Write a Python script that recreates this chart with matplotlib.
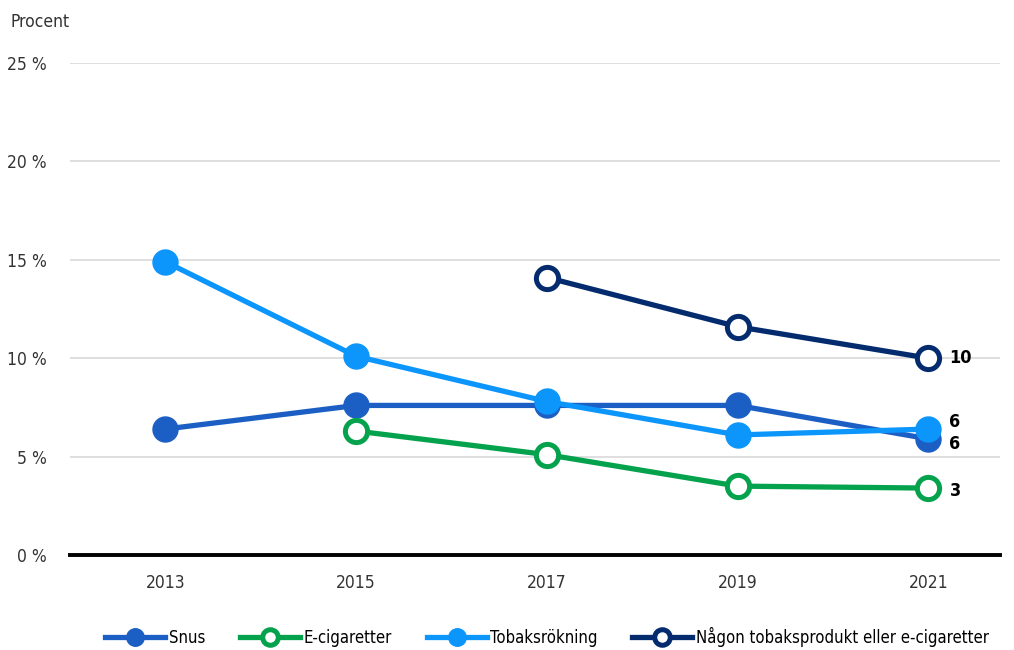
import matplotlib
matplotlib.use("Agg")
import matplotlib.pyplot as plt
from matplotlib import font_manager

years = [2013, 2015, 2017, 2019, 2021]
snus = [6.4, 7.6, 7.6, 7.6, 5.9]
ecig = [None, 6.3, 5.1, 3.5, 3.4]
tobak = [14.9, 10.1, 7.8, 6.1, 6.4]
nagon = [None, None, 14.1, 11.6, 10.0]
end_labels = {"snus": "6", "ecig": "3", "tobak": "6", "nagon": "10"}

# prefer a narrow face if one is installed
fonts = font_manager.fontManager.ttflist
names = {f.name for f in fonts}
narrow = [f for f in fonts if f.name == "DejaVu Sans" and "ondensed" in f.fname]
if "Liberation Sans Narrow" in names:
    plt.rcParams["font.family"] = ["Liberation Sans Narrow", "DejaVu Sans"]
elif narrow:
    plt.rcParams["font.family"] = ["DejaVu Sans"]
    plt.rcParams["font.stretch"] = "condensed"
else:
    plt.rcParams["font.family"] = ["Roboto", "DejaVu Sans"]

fig = plt.figure(figsize=(10.14, 6.5), dpi=100)
ax = fig.add_axes([70 / 1014, 1 - 555 / 650, 930 / 1014, (555 - 63) / 650])


def xy(vals):
    pts = [(x, v) for x, v in zip(years, vals) if v is not None]
    return [p[0] for p in pts], [p[1] for p in pts]


series = [
    ("nagon", nagon, "#032b6e", "Någon tobaksprodukt eller e-cigaretter", True, 2),
    ("snus", snus, "#1c5fc4", "Snus", False, 3),
    ("ecig", ecig, "#05a24e", "E-cigaretter", True, 4),
    ("tobak", tobak, "#0c96fb", "Tobaksrökning", False, 5),
]
handles = {}
for key, vals, col, lab, hollow, z in series:
    xs, ys = xy(vals)
    h, = ax.plot(xs, ys, color=col, lw=3.8, marker="o", ms=16 if hollow else 18,
                 mfc="white" if hollow else col, mec=col, mew=3.6 if hollow else 1,
                 label=lab, zorder=z, clip_on=False)
    handles[key] = h

# end labels
ax.text(2021.22, nagon[-1], end_labels["nagon"], fontsize=13, fontweight="bold", va="center")
ax.text(2021.22, tobak[-1] + 0.35, end_labels["tobak"], fontsize=13, fontweight="bold", va="center")
ax.text(2021.22, snus[-1] - 0.25, end_labels["snus"], fontsize=13, fontweight="bold", va="center")
ax.text(2021.22, ecig[-1] - 0.15, end_labels["ecig"], fontsize=13, fontweight="bold", va="center")

ax.set_xlim(2012, 2021.75)
ax.set_ylim(0, 25)
ax.set_xticks(years)
ax.set_yticks([0, 5, 10, 15, 20, 25])
ax.set_yticklabels([f"{t} %" for t in [0, 5, 10, 15, 20, 25]])
ax.tick_params(axis="both", length=0, labelsize=12.5, colors="#333333", pad=14)
ax.tick_params(axis="y", pad=17)
ax.grid(axis="y", color="#d9d9d9", lw=1.2)
ax.set_axisbelow(True)
for s in ["top", "right", "left"]:
    ax.spines[s].set_visible(False)
ax.spines["bottom"].set_color("black")
ax.spines["bottom"].set_linewidth(2.8)
ax.spines["bottom"].set_zorder(1)

fig.text(10 / 1014, 1 - 22 / 650, "Procent", fontsize=12.5, color="#333333", va="center")

order = ["snus", "ecig", "tobak", "nagon"]
fig.legend([handles[k] for k in order], [handles[k].get_label() for k in order],
           loc="center", bbox_to_anchor=(547 / 1014, 1 - 637 / 650), ncol=4,
           frameon=False, fontsize=12, handlelength=3.6, columnspacing=2.1,
           handletextpad=0.2, markerscale=0.7)

plt.savefig("out.png", dpi=100)
